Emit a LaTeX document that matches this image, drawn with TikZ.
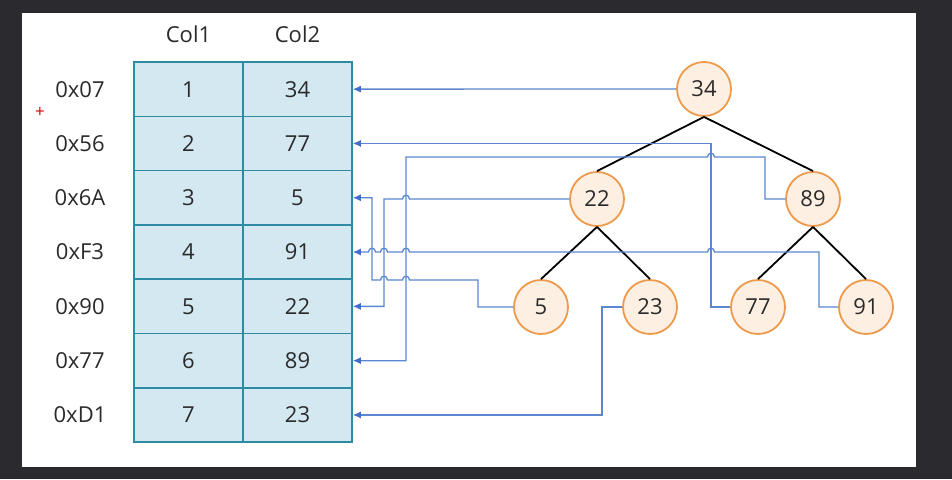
\documentclass[tikz,border=0pt]{standalone}
\usepackage{fontspec}
\setmainfont{Open Sans}
\usetikzlibrary{arrows.meta}
\definecolor{bgdark}{HTML}{2B2B2F}
\definecolor{cellfill}{HTML}{D3E8F1}
\definecolor{cellline}{HTML}{2F8AA3}
\definecolor{circfill}{HTML}{FDEFE2}
\definecolor{circline}{HTML}{EE9A4C}
\definecolor{connblue}{HTML}{5A86D2}
\definecolor{tipblue}{HTML}{3C6FD0}
\definecolor{txtc}{HTML}{2A2A2A}
\newcommand{\hopat}[2]{-- ({#1+3.5},#2) .. controls ({#1+3.5},{#2-5}) and ({#1-3.5},{#2-5}) .. ({#1-3.5},#2)}
\begin{document}
\begin{tikzpicture}[x=1pt,y=-1pt,
 txtfont/.style={font=\fontsize{22}{26}\selectfont},
 cell/.style={draw=cellline,fill=cellfill,line width=1.6pt,minimum width=109pt,minimum height=54.3pt,inner sep=0pt,text=txtc,txtfont},
 lbl/.style={text=txtc,txtfont},
 tnode/.style={circle,draw=circline,fill=circfill,line width=1.8pt,minimum size=54pt,inner sep=0pt,text=txtc,txtfont},
 tedge/.style={black,line width=1.8pt},
 conn/.style={connblue,line width=1.3pt,-{Latex[length=8pt,width=7pt,fill=tipblue,color=tipblue]}}
]
\fill[bgdark] (0,0) rectangle (952,479);
\useasboundingbox (0,0) rectangle (952,479);
\fill[white] (22,13) rectangle (916,467);

% headers
\node[lbl] (h1) at (188.5,34) {Col1};
\node[lbl] (h2) at (297.5,34) {Col2};

% table
\foreach \i/\a/\b/\l in {1/1/34/0x07,2/2/77/0x56,3/3/5/0x6A,4/4/91/0xF3,5/5/22/0x90,6/6/89/0x77,7/7/23/0xD1}{
  \node[cell] (k\i) at (188.5,{62+54.3*(\i-0.5)}) {\a};
  \node[cell] (v\i) at (297.5,{62+54.3*(\i-0.5)}) {\b};
  \node[lbl] (r\i) at (80,{62+54.3*(\i-0.5)}) {\l};
}

\node[text=red!85!black,font=\fontsize{17}{17}\selectfont] (plus) at (40,112) {+};

% tree
\node[tnode] (n34) at (704,89) {34};
\node[tnode] (n22) at (597,199) {22};
\node[tnode] (n89) at (813,199) {89};
\node[tnode] (n5)  at (541,307) {5};
\node[tnode] (n23) at (650,307) {23};
\node[tnode] (n77) at (758,307) {77};
\node[tnode] (n91) at (866,307) {91};

\draw[tedge] (n34.south) -- (n22.north);
\draw[tedge] (n34.south) -- (n89.north);
\draw[tedge] (n22.south) -- (n5.north);
\draw[tedge] (n22.south) -- (n23.north);
\draw[tedge] (n89.south) -- (n77.north);
\draw[tedge] (n89.south) -- (n91.north);

% connectors
\draw[conn] (n34.west) -- (v1.east);
\draw[conn] (n77.west) -- (711,307) |- (v2.east);
\draw[conn] (n89.west) -- (765,199) -- (765,157) \hopat{711}{157} -- (406,157) |- (v6.east);
\draw[conn] (n22.west) \hopat{406}{199} -- (384,199) |- (v5.east);
\draw[conn] (n5.west) -- (478,307) -- (478,280) \hopat{406}{280} \hopat{384}{280} -- (372,280) |- (v3.east);
\draw[conn] (n91.west) -- (819,307) -- (819,252) \hopat{711}{252} \hopat{406}{252} \hopat{384}{252} \hopat{372}{252} -- (v4.east);
\draw[conn] (n23.west) -- (602,307) |- (v7.east);
\end{tikzpicture}
\end{document}
